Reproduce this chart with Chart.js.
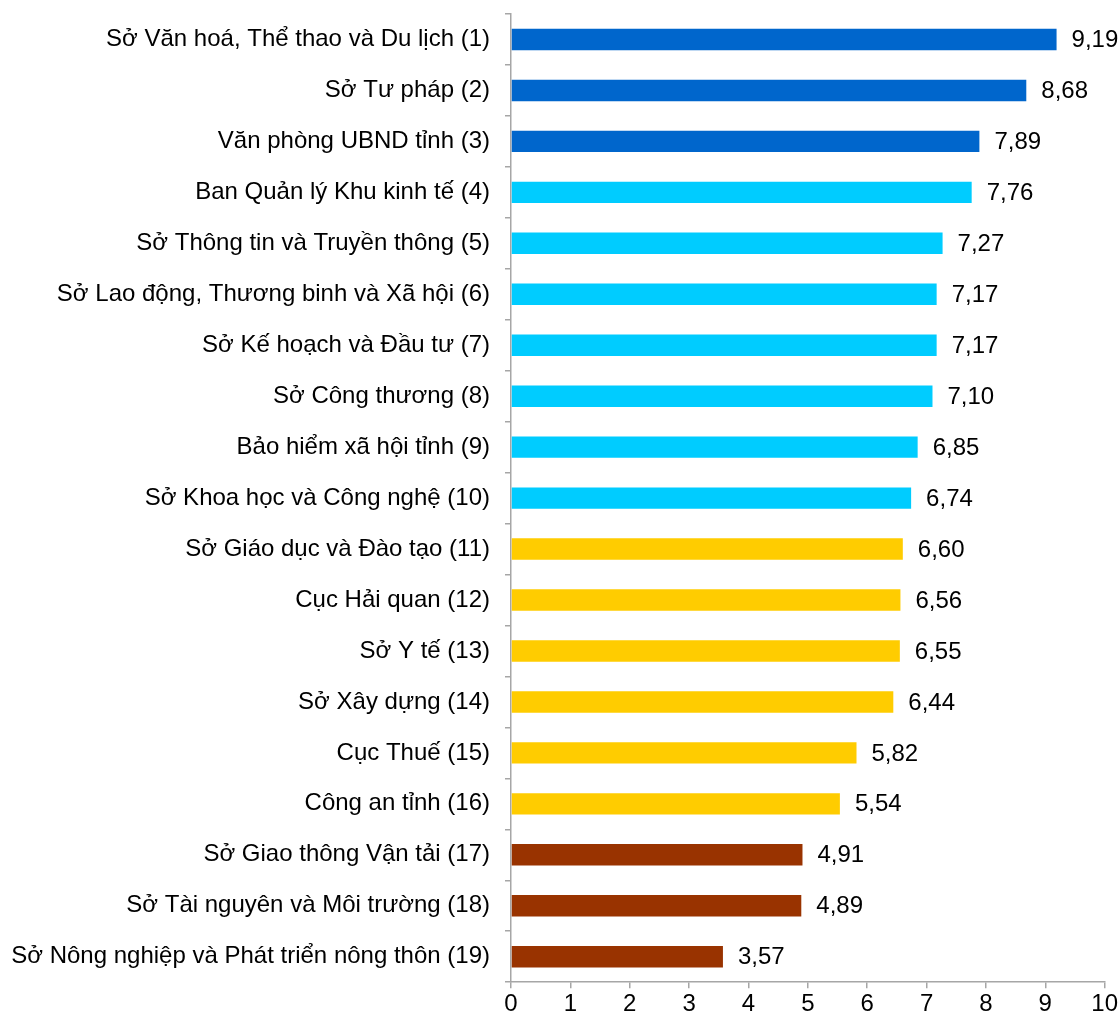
<!DOCTYPE html>
<html lang="vi">
<head>
    <meta charset="UTF-8">
    <title>Chỉ số</title>
    <script src="https://cdn.jsdelivr.net/npm/chart.js"></script>
    <style>
        body { margin: 0; background: #fff; }
        #chart { display: block; }
    </style>
</head>
<body>
<canvas id="chart" width="1120" height="1021"></canvas>
<script>
    // Data
    const categories = [
        'Sở Văn hoá, Thể thao và Du lịch (1)',
        'Sở Tư pháp (2)',
        'Văn phòng UBND tỉnh (3)',
        'Ban Quản lý Khu kinh tế (4)',
        'Sở Thông tin và Truyền thông (5)',
        'Sở Lao động, Thương binh và Xã hội (6)',
        'Sở Kế hoạch và Đầu tư (7)',
        'Sở Công thương (8)',
        'Bảo hiểm xã hội tỉnh (9)',
        'Sở Khoa học và Công nghệ (10)',
        'Sở Giáo dục và Đào tạo (11)',
        'Cục Hải quan (12)',
        'Sở Y tế (13)',
        'Sở Xây dựng (14)',
        'Cục Thuế (15)',
        'Công an tỉnh (16)',
        'Sở Giao thông Vận tải (17)',
        'Sở Tài nguyên và Môi trường (18)',
        'Sở Nông nghiệp và Phát triển nông thôn (19)'
    ];
    const scores = [9.19, 8.68, 7.89, 7.76, 7.27, 7.17, 7.17, 7.10, 6.85, 6.74,
                    6.60, 6.56, 6.55, 6.44, 5.82, 5.54, 4.91, 4.89, 3.57];
    // group of each bar: 0 = top, 1 = good, 2 = average, 3 = low
    const groups = [0, 0, 0, 1, 1, 1, 1, 1, 1, 1, 2, 2, 2, 2, 2, 2, 3, 3, 3];
    const groupColors = ['#0066CC', '#00CCFF', '#FFCC00', '#993300'];
    const xTicks = [0, 1, 2, 3, 4, 5, 6, 7, 8, 9, 10];

    const axisColor = '#A6A6A6';
    const font = { family: 'Liberation Sans, Arial, sans-serif', size: 24 };

    // write the value at the end of every bar
    const valueLabels = {
        id: 'valueLabels',
        afterDatasetsDraw(chart) {
            const ctx = chart.ctx;
            const meta = chart.getDatasetMeta(0);
            ctx.save();
            ctx.font = font.size + 'px ' + font.family;
            ctx.fillStyle = '#000';
            ctx.textAlign = 'left';
            ctx.textBaseline = 'middle';
            meta.data.forEach((bar, i) => {
                ctx.fillText(scores[i].toFixed(2).replace('.', ','), bar.x + 15, bar.y + 1);
            });
            ctx.restore();
        }
    };

    new Chart(document.getElementById('chart'), {
        type: 'bar',
        data: {
            labels: categories,
            datasets: [{
                data: scores,
                backgroundColor: groups.map(g => groupColors[g]),
                borderWidth: 0,
                barPercentage: 0.42,
                categoryPercentage: 1
            }]
        },
        options: {
            indexAxis: 'y',
            responsive: false,
            animation: false,
            layout: { padding: { top: 14, right: 15, left: 0, bottom: 0 } },
            plugins: {
                legend: { display: false },
                tooltip: { enabled: false }
            },
            scales: {
                x: {
                    min: 0,
                    max: 10,
                    afterBuildTicks: scale => { scale.ticks = xTicks.map(v => ({ value: v })); },
                    grid: { drawOnChartArea: false, drawTicks: true, tickLength: 6, color: axisColor, lineWidth: 1.5 },
                    border: { color: axisColor, width: 1.5 },
                    ticks: { color: '#000', font: font, padding: 2 }
                },
                y: {
                    afterFit: scale => {
                        scale.width = 511;
                        scale.paddingTop = 0;
                        scale.paddingBottom = 0;
                    },
                    grid: { drawOnChartArea: false, drawTicks: true, tickLength: 6, color: axisColor, lineWidth: 1.5, offset: true },
                    border: { color: axisColor, width: 1.5 },
                    ticks: { color: '#000', font: font, padding: 15, autoSkip: false }
                }
            }
        },
        plugins: [valueLabels]
    });
</script>
</body>
</html>
